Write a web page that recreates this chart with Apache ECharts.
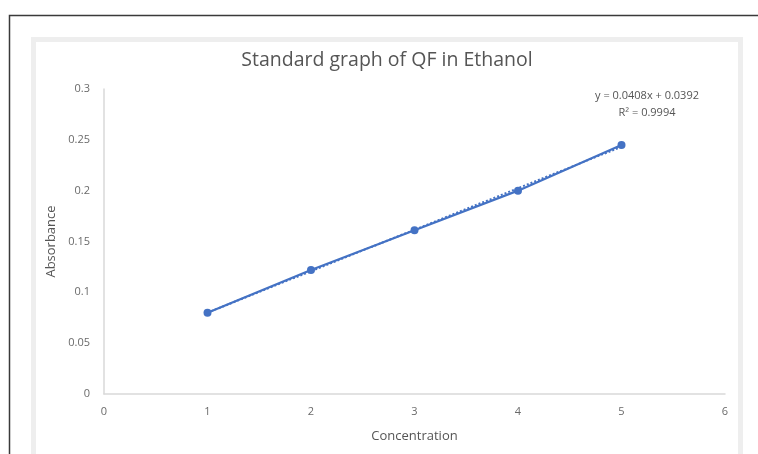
<!DOCTYPE html>
<html>
<head>
<meta charset="utf-8">
<script src="https://cdn.jsdelivr.net/npm/echarts@6/dist/echarts.min.js"></script>
<style>
  html, body { margin: 0; padding: 0; background: #fff; }
  #chart { width: 758px; height: 454px; }
</style>
</head>
<body>
<div id="chart"></div>
<script>
// Concentration vs. absorbance readings
const concentration = [1, 2, 3, 4, 5];
const absorbance = [0.08, 0.122, 0.161, 0.2, 0.245];

// Linear fit reported on the chart
const fitSlope = 0.0408;
const fitIntercept = 0.0392;
const fitR2 = 0.9994;

const xTicks = { min: 0, max: 6, interval: 1 };
const yTicks = { min: 0, max: 0.3, interval: 0.05 };

const blue = '#4472C4';
const textGray = '#6a6a6a';
const font = 'Open Sans';

const points = concentration.map((c, i) => [c, absorbance[i]]);
const xFirst = concentration[0];
const xLast = concentration[concentration.length - 1];
const trend = [xFirst, xLast].map(x => [x, fitSlope * x + fitIntercept]);

const chart = echarts.init(document.getElementById('chart'), null, { renderer: 'canvas' });

chart.setOption({
  animation: false,
  backgroundColor: '#fff',
  textStyle: { fontFamily: font },
  title: {
    text: 'Standard graph of QF in Ethanol',
    left: 382,
    textAlign: 'center',
    top: 45,
    textStyle: { fontFamily: font, fontSize: 19.5, fontWeight: 'normal', color: '#555555' }
  },
  graphic: [
    {
      type: 'rect', silent: true, z: -10,
      shape: { x: 9.5, y: 15.5, width: 800, height: 500 },
      style: { fill: 'none', stroke: '#3a3a3a', lineWidth: 1.5 }
    },
    {
      type: 'rect', silent: true, z: -10,
      shape: { x: 33.5, y: 39.5, width: 707, height: 500 },
      style: { fill: '#fff', stroke: '#eeeeee', lineWidth: 5 }
    },
    {
      type: 'text', silent: true,
      x: 647, y: 96,
      style: {
        text: 'y = ' + fitSlope.toFixed(4) + 'x + ' + fitIntercept.toFixed(4),
        align: 'center', verticalAlign: 'middle',
        fontFamily: font, fontSize: 11, fill: '#555555'
      }
    },
    {
      type: 'text', silent: true,
      x: 647, y: 113,
      style: {
        text: 'R² = ' + fitR2.toFixed(4),
        align: 'center', verticalAlign: 'middle',
        fontFamily: font, fontSize: 11, fill: '#555555'
      }
    }
  ],
  grid: { left: 104, right: 33, top: 89, bottom: 60, containLabel: false },
  xAxis: {
    type: 'value',
    min: xTicks.min, max: xTicks.max, interval: xTicks.interval,
    name: 'Concentration',
    nameLocation: 'middle',
    nameGap: 36,
    nameTextStyle: { fontFamily: font, fontSize: 13, color: '#555555' },
    axisLine: { show: true, lineStyle: { color: '#d9d9d9', width: 1.5 } },
    axisTick: { show: false },
    splitLine: { show: false },
    axisLabel: { margin: 12, fontFamily: font, fontSize: 11, color: textGray }
  },
  yAxis: {
    type: 'value',
    min: yTicks.min, max: yTicks.max, interval: yTicks.interval,
    name: 'Absorbance',
    nameLocation: 'middle',
    nameGap: 42,
    nameRotate: 90,
    nameTextStyle: { fontFamily: font, fontSize: 13, color: '#555555' },
    axisLine: { show: true, lineStyle: { color: '#d9d9d9', width: 1.5 } },
    axisTick: { show: false },
    splitLine: { show: false },
    axisLabel: { margin: 14, fontFamily: font, fontSize: 11, color: textGray }
  },
  series: [
    {
      name: 'Absorbance',
      type: 'line',
      data: points,
      symbol: 'circle',
      symbolSize: 8,
      itemStyle: { color: blue },
      lineStyle: { color: blue, width: 2.25 },
      z: 3
    },
    {
      name: 'Linear fit',
      type: 'line',
      data: trend,
      symbol: 'none',
      lineStyle: { color: blue, width: 2, type: 'dotted' },
      z: 2
    }
  ]
});
</script>
</body>
</html>
